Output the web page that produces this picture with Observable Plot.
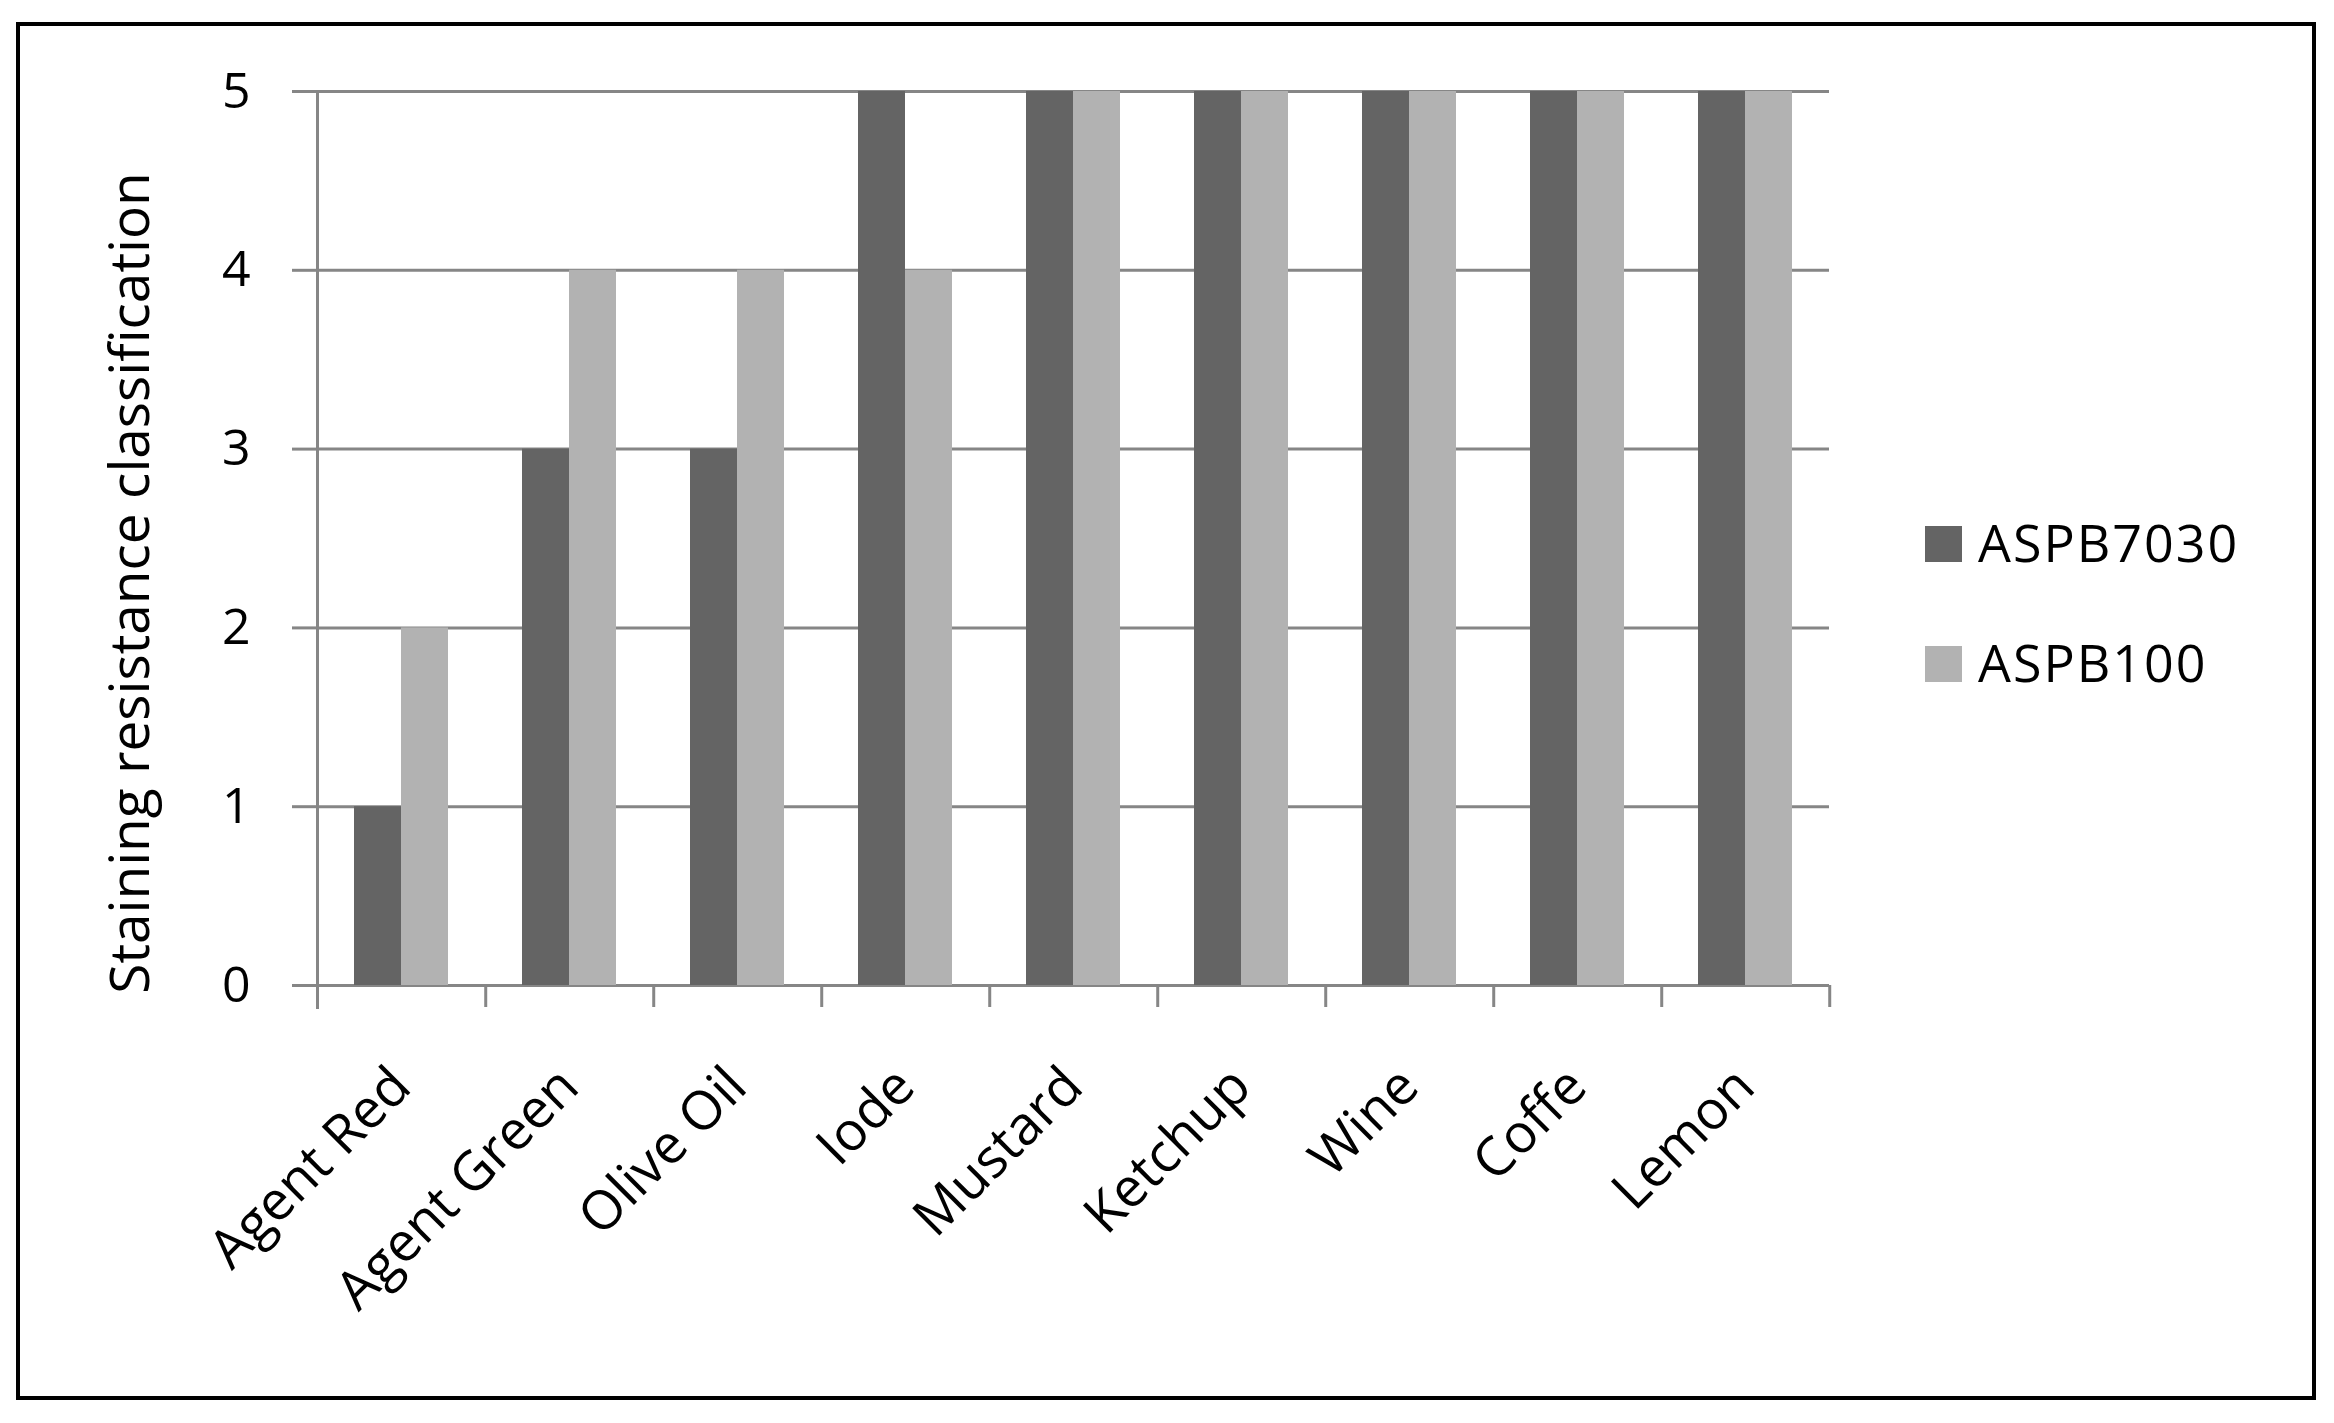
<!DOCTYPE html>
<html>
<head>
<meta charset="utf-8">
<script src="https://cdn.jsdelivr.net/npm/d3@7"></script>
<script src="https://cdn.jsdelivr.net/npm/@observablehq/plot@0.6"></script>
<style>
  body { margin: 0; background: #fff; }
  #wrap { position: relative; width: 2334px; height: 1423px; overflow: hidden; font-family: "Open Sans", sans-serif; color: #000; }
  #chart { position: absolute; left: 0; top: 0; }
  #border { position: absolute; left: 16px; top: 22px; width: 2300px; height: 1378px; box-sizing: border-box; border: 4px solid #000; pointer-events: none; }
  #ytitle { position: absolute; left: 0; top: 0; transform-origin: 0 0; white-space: nowrap; font-size: 55px; line-height: 55px; }
  .sw { position: absolute; width: 37px; height: 36px; }
  .lt { position: absolute; white-space: nowrap; font-size: 52px; line-height: 52px; letter-spacing: 2px; }
</style>
</head>
<body>
<div id="wrap">
  <div id="chart"></div>
  <div id="ytitle"></div>
  <div id="legend"></div>
  <div id="border"></div>
</div>
<script>
// ---- data ----
const categories = ["Agent Red", "Agent Green", "Olive Oil", "Iode", "Mustard", "Ketchup", "Wine", "Coffe", "Lemon"];
const seriesNames = ["ASPB7030", "ASPB100"];
const aspb7030 = [1, 3, 3, 5, 5, 5, 5, 5, 5];
const aspb100 = [2, 4, 4, 4, 5, 5, 5, 5, 5];
const yTicks = [0, 1, 2, 3, 4, 5];
const yTitle = "Staining resistance classification";
const seriesColors = ["#646464", "#b2b2b2"];
const gridColor = "#868686";

const seriesValues = [aspb7030, aspb100];
const rows = [];
categories.forEach((c, i) => {
  seriesNames.forEach((s, j) => rows.push({category: c, series: s, value: seriesValues[j][i]}));
});

// ---- layout ----
const W = 1900, H = 1423, mL = 315, mR = 69, mT = 91, mB = 438;
const band = (W - mL - mR) / categories.length;

const chart = Plot.plot({
  width: W, height: H,
  marginLeft: mL, marginRight: mR, marginTop: mT, marginBottom: mB,
  style: {background: "transparent", fontFamily: "'Open Sans', sans-serif", overflow: "visible", color: "#000"},
  fx: {domain: categories, paddingInner: 0, paddingOuter: 0, label: null},
  x: {domain: seriesNames, paddingInner: 0, paddingOuter: 0.76, axis: null, label: null},
  y: {domain: [0, 5], label: null},
  color: {domain: seriesNames, range: seriesColors},
  marks: [
    Plot.ruleY(yTicks, {stroke: gridColor, strokeWidth: 3}),
    Plot.barY(rows, {fx: "category", x: "series", y: "value", fill: "series"}),
    Plot.axisY({ticks: yTicks, tickSize: 25, tickPadding: 42, stroke: gridColor, strokeWidth: 3, fill: "#000", fontSize: 50, tickFormat: d3.format("d"), label: null}),
    Plot.frame({anchor: "left", facetAnchor: "left", stroke: gridColor, strokeWidth: 3, insetBottom: -22}),
    Plot.axisFx({anchor: "bottom", tickSize: 22, tickFormat: () => "", stroke: gridColor, strokeWidth: 3, dx: band / 2, label: null}),
    Plot.text(categories, {fx: d => d, text: d => d, frameAnchor: "bottom", rotate: -45, textAnchor: "end", lineAnchor: "bottom", dx: 12, dy: 104, fontSize: 54, fill: "#000"})
  ]
});
document.getElementById("chart").appendChild(chart);

// ---- y title ----
const yt = document.getElementById("ytitle");
yt.textContent = yTitle;
yt.style.transform = "translate(100px, 583px) rotate(-90deg) translate(-50%, 0)";

// ---- legend ----
const leg = document.getElementById("legend");
seriesNames.forEach((s, i) => {
  const sw = document.createElement("div");
  sw.className = "sw";
  sw.style.left = "1925px";
  sw.style.top = (526 + i * 120) + "px";
  sw.style.background = seriesColors[i];
  leg.appendChild(sw);
  const t = document.createElement("div");
  t.className = "lt";
  t.style.left = "1978px";
  t.style.top = (516 + i * 120) + "px";
  t.textContent = s;
  leg.appendChild(t);
});
</script>
</body>
</html>
